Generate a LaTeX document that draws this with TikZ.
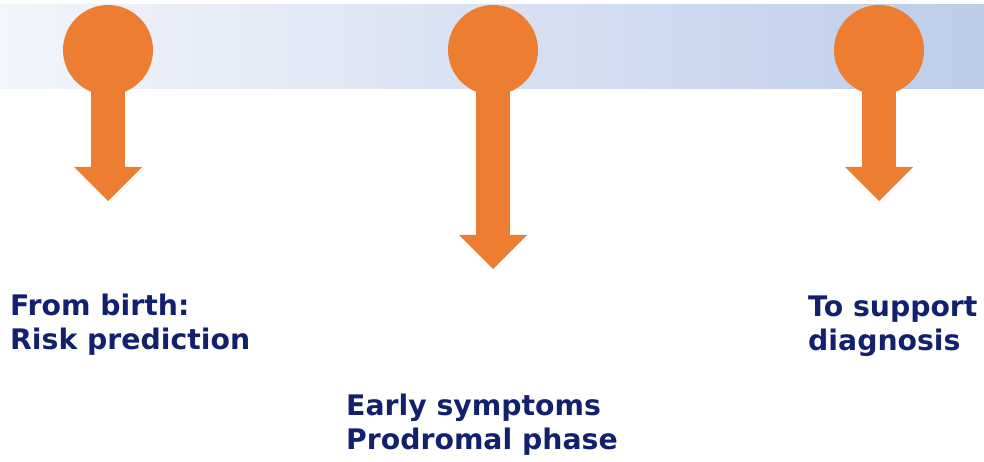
\documentclass[tikz,border=0pt]{standalone}
\usepackage{fontspec}
\setmainfont{DejaVu Sans}
\usetikzlibrary{arrows.meta, positioning}

\definecolor{pinorange}{RGB}{237,125,49}
\definecolor{labelnavy}{RGB}{18,32,110}
\definecolor{bandleft}{RGB}{242,245,251}
\definecolor{bandright}{RGB}{189,205,233}

\begin{document}
\begin{tikzpicture}[
  x=1pt, y=-1pt,
  dot/.style={circle, fill=pinorange, minimum size=90pt, inner sep=0pt},
  pointer/.style={draw=pinorange, line width=34pt, -{Triangle[width=68pt, length=34pt, line width=0pt, fill=pinorange]}},
  caption/.style={anchor=base west, inner sep=0pt, align=left, text=labelnavy, font=\bfseries\fontsize{28.3}{33.5}\selectfont}
]
\useasboundingbox (0,0) rectangle (984,462);

% timeline band
\shade[left color=bandleft, right color=bandright] (0,5) rectangle (984,89);

% pins on the band
\node[dot] (birth) at (108,50) {};
\node[dot] (early) at (493,50) {};
\node[dot] (diag) at (879,50) {};

\coordinate (birthtip) at (108,201);
\coordinate (earlytip) at (493,269);
\coordinate (diagtip) at (879,201);

\draw[pointer] (birth.center) -- (birthtip);
\draw[pointer] (early.center) -- (earlytip);
\draw[pointer] (diag.center) -- (diagtip);

% labels (base = last line)
\node[caption] (birthlabel) at (10,349) {From birth:\\Risk prediction};
\node[caption] (earlylabel) at (346,449) {Early symptoms\\Prodromal phase};
\node[caption] (diaglabel) at (808,350) {To support\\diagnosis};

\end{tikzpicture}
\end{document}
